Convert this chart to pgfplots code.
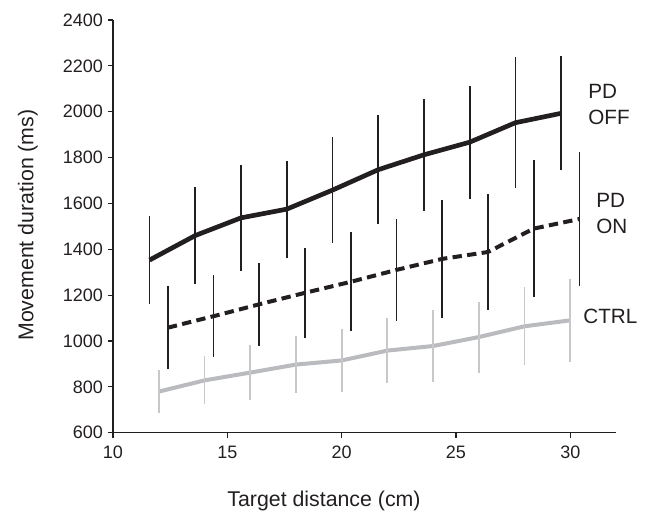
\documentclass[border=0pt]{standalone}
\usepackage{fontspec}
\setmainfont{Liberation Sans}
\usepackage{pgfplots}
\pgfplotsset{compat=1.18}

\definecolor{ink}{RGB}{35,31,32}
\definecolor{ctrlline}{RGB}{186,187,191}
\definecolor{ctrlbar}{RGB}{200,200,200}

% x, mean, sd (ms)
\pgfplotstableread{
x y e
11.6 1353 190
13.6 1460 211
15.6 1537 230
17.6 1575 211
19.6 1658 232
21.6 1747 237
23.6 1812 243
25.6 1867 246
27.6 1952 285
29.6 1993 249
}\pdoff
\pgfplotstableread{
x y e
12.4 1058 180
14.4 1108 180
16.4 1160 180
18.4 1210 196
20.4 1258 216
22.4 1310 224
24.4 1358 259
26.4 1388 255
28.4 1490 300
30.4 1532 291
}\pdon
\pgfplotstableread{
x y e
12 779 94
14 828 105
16 862 121
18 897 125
20 915 138
22 958 142
24 978 155
26 1017 155
28 1064 170
30 1090 181
}\ctrl

\begin{document}
\begin{tikzpicture}
\begin{axis}[
  name=ax,
  scale only axis,
  width=377.25pt, height=309.5pt,
  xmin=10, xmax=32, ymin=600, ymax=2400,
  axis x line*=bottom, axis y line*=left,
  axis line style={ink, line width=0.9pt},
  xtick={10,15,20,25,30},
  ytick={600,800,...,2400},
  tick align=outside,
  major tick length=4pt,
  tick style={ink, line width=0.9pt},
  ticklabel style={font=\fontsize{13.5}{16}\selectfont, text=ink},
  xticklabel style={yshift=-2.5pt},
  /pgf/number format/assume math mode=true,
  /pgf/number format/1000 sep={},
  xlabel={Target distance (cm)},
  ylabel={Movement duration (ms)},
  label style={font=\fontsize{16}{19}\selectfont, text=ink},
  xlabel style={at={([yshift=-55pt]axis description cs:0.4195,0)}, anchor=base},
  ylabel style={at={([xshift=-59.8pt]axis description cs:0,0.503)}, anchor=base},
  clip=false,
  error bars/error mark=none,
]
\addplot[ink, line width=3.5pt, line join=round,
  error bars/.cd, y dir=both, y explicit,
  error bar style={ink, line width=1.3pt, solid}]
  table[x=x, y=y, y error=e] {\pdoff};
\addplot[ink, line width=3pt, dash pattern=on 7pt off 4pt,
  error bars/.cd, y dir=both, y explicit,
  error bar style={ink, line width=1.3pt, solid}]
  table[x=x, y=y, y error=e] {\pdon};
\addplot[ctrlline, line width=3pt, line join=round,
  error bars/.cd, y dir=both, y explicit,
  error bar style={ctrlbar, line width=1.3pt, solid}]
  table[x=x, y=y, y error=e] {\ctrl};

\node[anchor=west, align=left, inner sep=0pt, text=ink,
  font=\fontsize{15.5}{19.5}\selectfont] at (axis cs:30.78,2031) {PD\\OFF};
\node[anchor=west, align=left, inner sep=0pt, text=ink,
  font=\fontsize{15.5}{19.5}\selectfont] at (axis cs:31.13,1554) {PD\\ON};
\node[anchor=west, inner sep=0pt, text=ink,
  font=\fontsize{15.5}{19.5}\selectfont] at (axis cs:30.56,1107) {CTRL};

\coordinate (bl) at (rel axis cs:0,0);
\coordinate (tr) at (rel axis cs:1,1);
\end{axis}
\pgfresetboundingbox
\path ([shift={(-84.75pt,-58.7pt)}]bl) rectangle ([shift={(25.5pt,15pt)}]tr);
\end{tikzpicture}
\end{document}
